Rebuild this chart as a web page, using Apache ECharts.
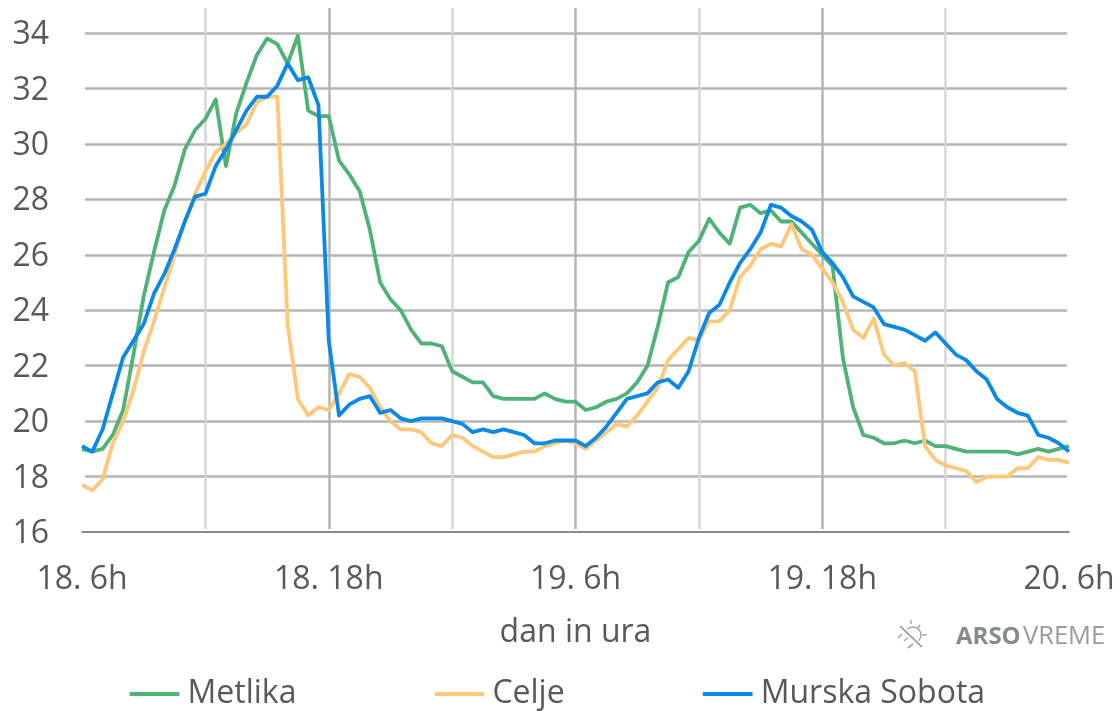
<!DOCTYPE html>
<html><head><meta charset="utf-8">
<style>html,body{margin:0;padding:0;background:#fff}#c{width:1120px;height:711px}</style>
<script src="https://cdn.jsdelivr.net/npm/echarts@6/dist/echarts.min.js"></script>
</head><body><div id="c"></div>
<script>
const dayLabels = {0:'18. 6h',24:'18. 18h',48:'19. 6h',72:'19. 18h',96:'20. 6h'};
const categories = ["18.6:00","18.6:30","18.7:00","18.7:30","18.8:00","18.8:30","18.9:00","18.9:30","18.10:00","18.10:30","18.11:00","18.11:30","18.12:00","18.12:30","18.13:00","18.13:30","18.14:00","18.14:30","18.15:00","18.15:30","18.16:00","18.16:30","18.17:00","18.17:30","18.18:00","18.18:30","18.19:00","18.19:30","18.20:00","18.20:30","18.21:00","18.21:30","18.22:00","18.22:30","18.23:00","18.23:30","19.0:00","19.0:30","19.1:00","19.1:30","19.2:00","19.2:30","19.3:00","19.3:30","19.4:00","19.4:30","19.5:00","19.5:30","19.6:00","19.6:30","19.7:00","19.7:30","19.8:00","19.8:30","19.9:00","19.9:30","19.10:00","19.10:30","19.11:00","19.11:30","19.12:00","19.12:30","19.13:00","19.13:30","19.14:00","19.14:30","19.15:00","19.15:30","19.16:00","19.16:30","19.17:00","19.17:30","19.18:00","19.18:30","19.19:00","19.19:30","19.20:00","19.20:30","19.21:00","19.21:30","19.22:00","19.22:30","19.23:00","19.23:30","20.0:00","20.0:30","20.1:00","20.1:30","20.2:00","20.2:30","20.3:00","20.3:30","20.4:00","20.4:30","20.5:00","20.5:30","20.6:00"];
const metlika = [19.0,18.9,19.0,19.5,20.4,22.4,24.5,26.1,27.6,28.5,
29.8,30.5,30.9,31.6,29.2,31.1,32.2,33.2,33.8,33.6,
32.9,33.9,31.2,31.0,31.0,29.4,28.9,28.3,26.9,25.0,
24.4,24.0,23.3,22.8,22.8,22.7,21.8,21.6,21.4,21.4,
20.9,20.8,20.8,20.8,20.8,21.0,20.8,20.7,20.7,20.4,
20.5,20.7,20.8,21.0,21.4,22.0,23.4,25.0,25.2,26.1,
26.5,27.3,26.8,26.4,27.7,27.8,27.5,27.6,27.2,27.2,
26.8,26.4,26.0,25.6,22.3,20.5,19.5,19.4,19.2,19.2,
19.3,19.2,19.3,19.1,19.1,19.0,18.9,18.9,18.9,18.9,
18.9,18.8,18.9,19.0,18.9,19.0,19.1];
const celje = [17.7,17.5,17.9,19.2,20.0,21.1,22.5,23.6,24.8,26.0,
27.2,28.2,29.0,29.7,30.0,30.4,30.7,31.5,31.7,31.7,
23.5,20.8,20.2,20.5,20.4,21.0,21.7,21.6,21.2,20.5,
20.0,19.7,19.7,19.6,19.2,19.1,19.5,19.4,19.1,18.9,
18.7,18.7,18.8,18.9,18.9,19.1,19.2,19.3,19.2,19.0,
19.3,19.6,19.9,19.8,20.2,20.7,21.2,22.2,22.6,23.0,
22.9,23.6,23.6,24.0,25.2,25.6,26.2,26.4,26.3,27.1,
26.2,26.0,25.5,25.0,24.3,23.3,23.0,23.7,22.4,22.0,
22.1,21.8,19.1,18.6,18.4,18.3,18.2,17.8,18.0,18.0,
18.0,18.3,18.3,18.7,18.6,18.6,18.5];
const murskaSobota = [19.1,18.9,19.7,21.0,22.3,22.9,23.5,24.6,25.3,26.2,
27.2,28.1,28.2,29.2,29.8,30.5,31.2,31.7,31.7,32.1,
32.9,32.3,32.4,31.4,22.9,20.2,20.6,20.8,20.9,20.3,
20.4,20.1,20.0,20.1,20.1,20.1,20.0,19.9,19.6,19.7,
19.6,19.7,19.6,19.5,19.2,19.2,19.3,19.3,19.3,19.1,
19.4,19.8,20.3,20.8,20.9,21.0,21.4,21.5,21.2,21.8,
23.0,23.9,24.2,25.0,25.7,26.2,26.8,27.8,27.7,27.4,
27.2,26.9,26.1,25.7,25.2,24.5,24.3,24.1,23.5,23.4,
23.3,23.1,22.9,23.2,22.8,22.4,22.2,21.8,21.5,20.8,
20.5,20.3,20.2,19.5,19.4,19.2,18.9];
const seriesNames = ['Metlika','Celje','Murska Sobota'];
const seriesColors = ['#4fb377','#ffc778','#0a8ae6'];
const seriesValues = [metlika,celje,murskaSobota];
const yMin = 16, yStep = 2;
const F = '"Open Sans","Noto Sans",sans-serif', TXT = '#595959', FS = 32;

const chart = echarts.init(document.getElementById('c'), null, {renderer:'canvas'});
const off = {show:false};
const topV = 34 + 25/27.72;                  // headroom above the 34 gridline
const grids = [
  {left:82, width:987, top:8, height:524},   // data + x labels
  {left:85, width:982, top:8, height:524},   // horizontal rules
  {left:82, width:987, top:8, height:521},   // vertical rules
  {left:82, width:987, top:10, height:524}   // y labels
];
const xBase = {type:'category', data:categories, boundaryGap:false};
chart.setOption({
  animation:false,
  backgroundColor:'#fff',
  textStyle:{fontFamily:F},
  grid:grids,
  xAxis:[
    Object.assign({}, xBase, {gridIndex:0,
      name:'dan in ura', nameLocation:'middle', nameGap:85,
      nameTextStyle:{fontFamily:F,fontSize:FS,color:TXT},
      axisLine:{show:true,lineStyle:{color:'#666',width:1.5}},
      axisTick:off, splitLine:off,
      axisLabel:{show:true,interval:i=>i%24===0,formatter:(v,i)=>dayLabels[i]||'',
        fontFamily:F,fontSize:FS,color:TXT,margin:32,hideOverlap:false,showMinLabel:true,showMaxLabel:true}}),
    Object.assign({}, xBase, {gridIndex:1, axisLine:off, axisTick:off, axisLabel:off, splitLine:off}),
    {type:'value',gridIndex:2,min:0,max:96,interval:12,axisLine:off,axisTick:off,axisLabel:off,
      splitLine:{show:true,showMinLine:false,showMaxLine:false,lineStyle:{color:['#d6d6d6','#b5b5b5'],width:2.5}}},
    Object.assign({}, xBase, {gridIndex:3, axisLine:off, axisTick:off, axisLabel:off, splitLine:off})
  ],
  yAxis:[
    {type:'value',gridIndex:0,min:yMin,max:topV,axisLine:off,axisTick:off,splitLine:off,axisLabel:off},
    {type:'value',gridIndex:1,min:yMin,max:topV,interval:yStep,axisLine:off,axisTick:off,axisLabel:off,
     splitLine:{show:true,showMinLine:false,showMaxLine:false,lineStyle:{color:'#b5b5b5',width:2.5}}},
    {type:'value',gridIndex:2,min:yMin,max:topV,axisLine:off,axisTick:off,axisLabel:off,splitLine:off},
    {type:'value',gridIndex:3,min:yMin,max:topV,interval:yStep,axisLine:off,axisTick:off,splitLine:off,
     axisLabel:{fontFamily:F,fontSize:FS,color:TXT,margin:33,showMaxLabel:false,formatter:v=>v}}
  ],
  legend:{left:129.5,top:678,padding:0,itemWidth:50,itemHeight:4,itemGap:138,
    textStyle:{fontFamily:F,fontSize:FS,color:TXT,padding:[0,0,0,3]},
    data:seriesNames.map(n=>({name:n,icon:'roundRect'}))},
  series:[
    ...seriesNames.map((n,k)=>({name:n,type:'line',xAxisIndex:0,yAxisIndex:0,data:seriesValues[k],
      showSymbol:false,symbol:'none',smooth:false,z:3+k,
      itemStyle:{color:seriesColors[k]},
      lineStyle:{color:seriesColors[k],width:3.8,join:'round'}})),
    {type:'line',xAxisIndex:1,yAxisIndex:1,data:[],silent:true},
    {type:'line',xAxisIndex:2,yAxisIndex:2,data:[],silent:true},
    {type:'line',xAxisIndex:3,yAxisIndex:3,data:[],silent:true}
  ],
  graphic:[
    {type:'text',left:956,top:625,style:{text:'ARSO',font:'bold 24px "Open Sans"',fill:'#868c89'}},
    {type:'text',left:1023,top:624,style:{text:'VREME',font:'25.5px "Open Sans"',fill:'#979c9a'}},
    {type:'line',shape:{x1:900,y1:626,x2:922,y2:647},style:{stroke:'#8e9391',lineWidth:1.6}},
    {type:'arc',shape:{cx:913,cy:635,r:8,startAngle:-2.36,endAngle:0.79},style:{stroke:'#a0a5a3',lineWidth:1.4,fill:'none'}},
    {type:'line',shape:{x1:911,y1:620,x2:911,y2:624},style:{stroke:'#a0a5a3',lineWidth:1.4}},
    {type:'line',shape:{x1:920,y1:625,x2:918,y2:628},style:{stroke:'#a0a5a3',lineWidth:1.4}},
    {type:'line',shape:{x1:922,y1:635,x2:927,y2:635},style:{stroke:'#a0a5a3',lineWidth:1.4}},
    {type:'line',shape:{x1:898,y1:638,x2:902,y2:634},style:{stroke:'#a0a5a3',lineWidth:1.4}},
    {type:'line',shape:{x1:904,y1:641,x2:908,y2:638},style:{stroke:'#a0a5a3',lineWidth:1.4}},
    {type:'line',shape:{x1:908,y1:648,x2:913,y2:644},style:{stroke:'#8e9391',lineWidth:1.6}}
  ]
});
</script></body></html>
